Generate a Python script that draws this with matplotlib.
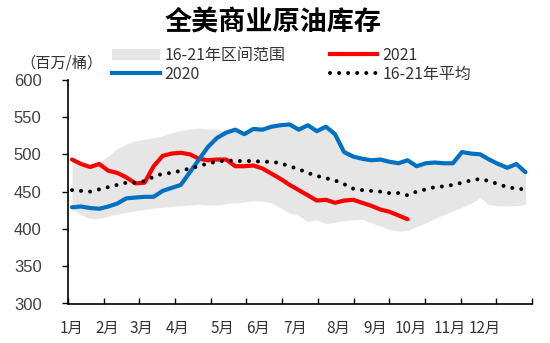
import matplotlib
matplotlib.use("Agg")
import matplotlib.pyplot as plt
import numpy as np
from matplotlib.patches import Patch
from matplotlib.lines import Line2D

plt.rcParams["font.family"] = ["Noto Sans CJK SC", "DejaVu Sans"]

# Weekly U.S. commercial crude inventories, million barrels
months = ["1月", "2月", "3月", "4月", "5月", "6月", "7月", "8月", "9月", "10月", "11月", "12月"]

stock_2021 = [493, 487, 483, 487, 478, 475, 469, 461, 462, 484, 498, 501, 502,
              500, 494, 492, 493, 493, 484, 484, 485, 481, 474, 467, 459, 452,
              445, 438, 439, 435, 438, 439, 435, 431, 426, 423, 418, 413]

stock_2020 = [429, 430, 428, 427, 430, 434, 441, 442, 443, 443, 451, 455, 459,
              476, 493, 510, 522, 529, 533, 527, 534, 533, 537, 539, 540, 533,
              539, 531, 537, 527, 503, 497, 494, 492, 493, 490, 488, 492, 484,
              488, 489, 488, 488, 503, 501, 500, 493, 487, 482, 487, 476]

avg_16_21 = [452, 451, 450, 453, 456, 459, 462, 462, 464, 470, 474, 475, 478,
             481, 484, 488, 490, 492, 491, 491, 491, 490, 490, 488, 484, 480,
             475, 471, 468, 465, 460, 454, 452, 451, 450, 448, 448, 445, 450,
             453, 456, 457, 459, 462, 465, 467, 464, 460, 456, 454, 453]

range_low = [426, 419, 414, 414, 417, 420, 422, 424, 426, 428, 429, 430, 431,
             432, 433, 432, 432, 434, 435, 436, 438, 437, 435, 428, 421, 418,
             410, 412, 407, 409, 411, 412, 413, 408, 404, 399, 397, 398, 403,
             408, 414, 419, 424, 429, 434, 442, 432, 431, 431, 431, 433]

range_high = [494, 489, 486, 489, 498, 508, 514, 518, 520, 522, 525, 529, 532,
              534, 535, 534, 533, 531, 533, 527, 534, 533, 537, 539, 540, 533,
              539, 531, 537, 527, 503, 497, 494, 492, 493, 490, 488, 492, 484,
              488, 489, 488, 488, 503, 501, 500, 493, 487, 482, 487, 476]

W, H = 550, 343
fig = plt.figure(figsize=(W / 100, H / 100), dpi=100)
ax = fig.add_axes([68 / W, 1 - 303.5 / H, 464 / W, (303.5 - 79.7) / H])

weeks = np.arange(len(stock_2020))
ax.fill_between(weeks, range_low, range_high, color="#e6e6e6", lw=0, zorder=1)
ax.plot(weeks[:len(stock_2021)], stock_2021, color="#ff0000", lw=3,
        solid_capstyle="round", solid_joinstyle="round", zorder=2)
ax.plot(weeks, stock_2020, color="#0070c0", lw=3,
        solid_capstyle="round", solid_joinstyle="round", zorder=3)
ax.plot(weeks[:len(avg_16_21)], avg_16_21, color="black", lw=2.9,
        dashes=(0.001, 2.25), dash_capstyle="round", zorder=4)

xlo, xhi = -0.44, 50.72
ax.set_xlim(xlo, xhi)
ax.set_ylim(300, 600)

ax.set_yticks(np.arange(300, 601, 50))
ax.tick_params(axis="y", direction="out", length=4, width=1, pad=15,
               labelsize=12, labelcolor="#404040")
for lab in ax.get_yticklabels():
    lab.set_fontfamily("Liberation Sans")

ax.set_xticks(np.linspace(xlo, xhi, 14))
ax.set_xticklabels([])
ax.tick_params(axis="x", which="major", direction="in", length=4, width=1)
month_pos = [0, 3.9, 7.7, 11.7, 16.6, 20.5, 24.6, 29.3, 33.4, 37.3, 41.7, 45.5]
ax.set_xticks(month_pos, minor=True)
ax.set_xticklabels(months, minor=True)
ax.tick_params(axis="x", which="minor", length=0, pad=12,
               labelsize=11, labelcolor="#333333")

for side in ("top", "right"):
    ax.spines[side].set_visible(False)
for side in ("left", "bottom"):
    ax.spines[side].set_linewidth(1.2)
    ax.spines[side].set_color("black")

fig.text(273 / W, 1 - 23 / H, "全美商业原油库存", ha="center", va="center",
         fontsize=19.5, fontweight="bold", color="black")
fig.text(20 / W, 1 - 63 / H, "（百万/桶）", ha="left", va="center",
         fontsize=11, color="#333333")

handles = [
    Patch(facecolor="#e6e6e6", edgecolor="none", label="16-21年区间范围"),
    Line2D([], [], color="#0070c0", lw=3, label="2020"),
    Line2D([], [], color="#ff0000", lw=3, label="2021"),
    Line2D([], [], color="black", lw=2.9, dashes=(0.001, 2.25),
           dash_capstyle="round", label="16-21年平均"),
]
leg = fig.legend(handles=handles, ncol=2, loc="upper left",
                 bbox_to_anchor=(112 / W, 1 - 47 / H), frameon=False,
                 fontsize=11.5, handlelength=3.0, handletextpad=0.3,
                 columnspacing=2.75, labelspacing=0.12, borderpad=0,
                 borderaxespad=0)
for t in leg.get_texts():
    t.set_color("#333333")

fig.savefig("out.png", dpi=100)
